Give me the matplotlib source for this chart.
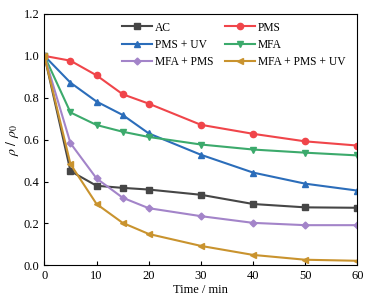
import matplotlib
matplotlib.use("Agg")
import matplotlib.pyplot as plt

plt.rcParams['font.family'] = ['Liberation Serif', 'DejaVu Serif']
plt.rcParams['mathtext.fontset'] = 'stix'

time = [0, 5, 10, 15, 20, 30, 40, 50, 60]
ac = [1.0, 0.45, 0.38, 0.37, 0.362, 0.337, 0.293, 0.277, 0.275]
pms = [1.0, 0.977, 0.907, 0.817, 0.772, 0.671, 0.628, 0.592, 0.572]
pms_uv = [1.0, 0.872, 0.782, 0.718, 0.630, 0.528, 0.443, 0.390, 0.357]
mfa = [1.0, 0.730, 0.670, 0.638, 0.613, 0.577, 0.553, 0.538, 0.525]
mfa_pms = [1.0, 0.583, 0.415, 0.323, 0.273, 0.235, 0.203, 0.192, 0.192]
mfa_pms_uv = [1.0, 0.483, 0.293, 0.203, 0.150, 0.093, 0.050, 0.027, 0.022]

fig = plt.figure(figsize=(3.7, 3.04), dpi=100)
ax = fig.add_axes([0.120, 0.127, 0.846, 0.827])

h1, = ax.plot(time, ac, color="#464646", marker="s", ms=4, lw=1.5, label="AC")
h2, = ax.plot(time, pms, color="#F0454A", marker="o", ms=4.5, lw=1.5, label="PMS")
h3, = ax.plot(time, pms_uv, color="#2B6DBA", marker="^", ms=4.5, lw=1.5, label="PMS + UV")
h4, = ax.plot(time, mfa, color="#3CAA6C", marker="v", ms=4.5, lw=1.5, label="MFA")
h5, = ax.plot(time, mfa_pms, color="#A384C9", marker="D", ms=3.5, lw=1.5, label="MFA + PMS")
h6, = ax.plot(time, mfa_pms_uv, color="#C9932E", marker="<", ms=4.5, lw=1.5, label="MFA + PMS + UV")

ax.set_xlim(0, 60)
ax.set_ylim(0, 1.2)
ax.set_xticks([0, 10, 20, 30, 40, 50, 60])
ax.set_yticks([0.0, 0.2, 0.4, 0.6, 0.8, 1.0, 1.2])
ax.set_yticklabels(["0.0", "0.2", "0.4", "0.6", "0.8", "1.0", "1.2"])
ax.tick_params(direction="in", labelsize=9, length=3, width=0.8, top=False, right=False)
for s in ax.spines.values():
    s.set_linewidth(0.8)

ax.set_xlabel("Time / min", fontsize=9, labelpad=1)
ax.set_ylabel(r"$\rho\ /\ \rho_0$", fontsize=10, labelpad=2)

# column-wise fill, so order handles to read row by row
handles = [h1, h3, h5, h2, h4, h6]
ax.legend(handles, [h.get_label() for h in handles], ncol=2, frameon=False,
          fontsize=8.3, loc="upper left", bbox_to_anchor=(0.248, 0.97),
          handlelength=2.6, columnspacing=1.0, labelspacing=0.45,
          handletextpad=0.25, borderaxespad=0, borderpad=0)

fig.savefig("out.png", dpi=100)
